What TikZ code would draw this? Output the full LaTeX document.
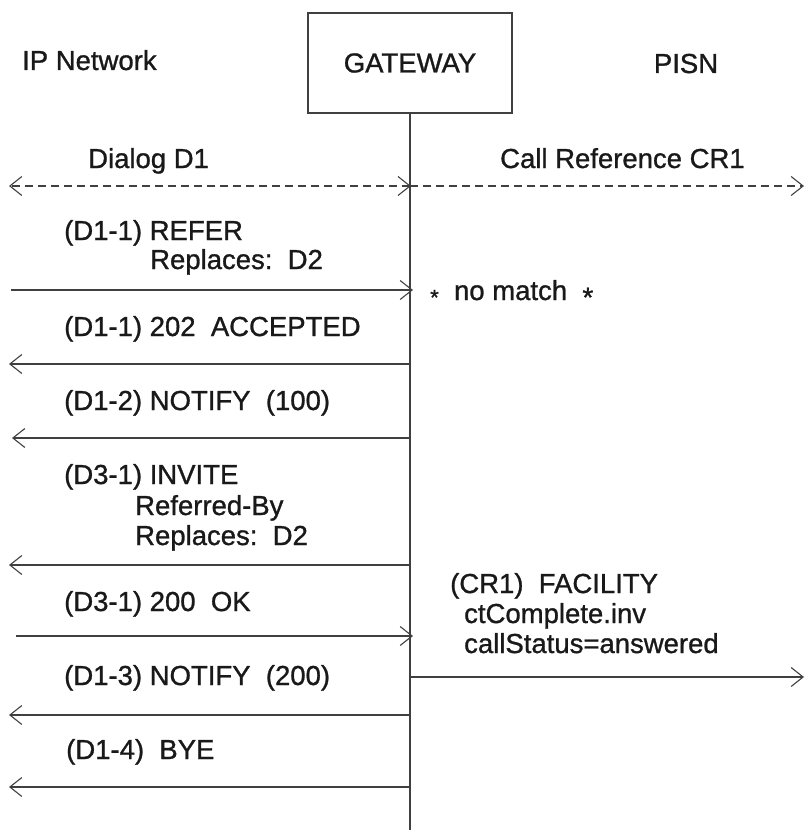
\documentclass[tikz,border=0pt]{standalone}
\usepackage{fontspec}
\setmainfont{Liberation Sans}[FakeBold=1]
\usepackage{tikz}
\usetikzlibrary{positioning, calc, arrows.meta}

\begin{document}
\begin{tikzpicture}[x=1pt, y=-1pt]
	\tikzstyle{msgtext}=[anchor=base west, inner sep=0pt, text=black!90, font=\fontsize{27.5}{30}\selectfont]
	\tikzstyle{msg}=[line width=1.1pt, draw=black!75, -{Straight Barb[length=12pt, width=19pt, line width=1.1pt]}]
	\tikzstyle{ref}=[msg, dash pattern=on 8pt off 5pt]

	\useasboundingbox (0,0) rectangle (806,832);

	\node[draw=black!75, line width=1.1pt, minimum width=204pt, minimum height=100pt, inner sep=0pt, text=black!90, font=\fontsize{27.5}{30}\selectfont] (gateway) at (410,63) {\raisebox{-3pt}{GATEWAY}};
	\node[msgtext] (ipnet) at (22,70) {IP Network};
	\node[msgtext, anchor=base] (pisn) at (686,73) {PISN};

	\node[msgtext] (dialog) at (88,168) {Dialog D1};
	\node[msgtext] (callref) at (500,168) {Call Reference CR1};

	\coordinate (lifeend) at (410,830);
	\draw[line width=1.1pt, draw=black!75] (gateway.south) -- (lifeend);

	\foreach \n/\y in {dlg/186, refer/290, accepted/364, notify1/438, invite/565, ok/636, facility/677, notify2/715, bye/787}{
		\coordinate (ip-\n) at (9,\y);
		\coordinate (gw-\n) at (410,\y);
		\coordinate (pisn-\n) at (804,\y);
	}

	\draw[ref] (gw-dlg) -- (ip-dlg);
	\draw[ref] (gw-dlg) -- (pisn-dlg);
	\draw[line width=1.1pt, draw=black!75] (gw-dlg) -- ++(-12pt,-9.5pt) (gw-dlg) -- ++(-12pt,9.5pt);

	\node[msgtext] (refer) at (64,240) {(D1-1) REFER};
	\node[msgtext] (refer-rep) at (150,269) {Replaces:\ \ D2};
	\draw[msg] ([xshift=2pt]ip-refer) -- ([xshift=3pt]gw-refer);
	\node[msgtext] (nomatch) at (430,300) {{\fontsize{22}{22}\selectfont\raisebox{-5pt}{*}}\ \ no match\ \ {\fontsize{28}{28}\selectfont\raisebox{-7pt}{*}}};

	\node[msgtext] (accepted) at (64,336) {(D1-1) 202\ \ ACCEPTED};
	\draw[msg] (gw-accepted) -- (ip-accepted);

	\node[msgtext] (notify1) at (64,410) {(D1-2) NOTIFY\ \ (100)};
	\draw[msg] (gw-notify1) -- ([xshift=3pt]ip-notify1);

	\node[msgtext] (invite) at (64,484) {(D3-1) INVITE};
	\node[msgtext] (invite-by) at (135,515) {Referred-By};
	\node[msgtext] (invite-rep) at (135,545) {Replaces:\ \ D2};
	\draw[msg] (gw-invite) -- (ip-invite);

	\node[msgtext] (ok) at (64,611) {(D3-1) 200\ \ OK};
	\draw[msg] ([xshift=7pt]ip-ok) -- ([xshift=3pt]gw-ok);

	\node[msgtext] (facility) at (450,593) {(CR1)\ \ FACILITY};
	\node[msgtext] (facility-inv) at (464,623) {ctComplete.inv};
	\node[msgtext] (facility-st) at (464,653) {callStatus=answered};
	\draw[msg] (gw-facility) -- (pisn-facility);

	\node[msgtext] (notify2) at (64,685) {(D1-3) NOTIFY\ \ (200)};
	\draw[msg] (gw-notify2) -- (ip-notify2);

	\node[msgtext] (bye) at (66,759) {(D1-4)\ \ BYE};
	\draw[msg] (gw-bye) -- (ip-bye);
\end{tikzpicture}
\end{document}
